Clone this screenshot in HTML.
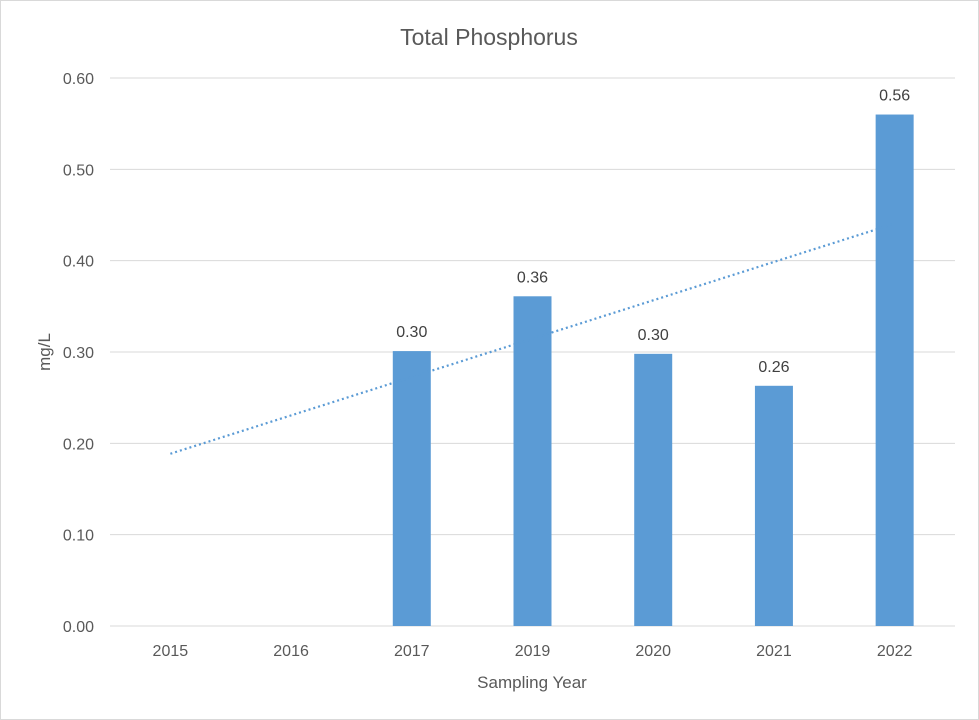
<!DOCTYPE html>
<html><head><meta charset="utf-8"><style>
html,body{margin:0;padding:0;background:#fff;}
svg{display:block;font-family:"Liberation Sans",Calibri,sans-serif;}
</style></head><body>
<svg id="chart" width="979" height="720" viewBox="0 0 979 720">
<rect x="0.5" y="0.5" width="978" height="719" fill="#fff" stroke="#d9d9d9"/>
<text x="489" y="45" text-anchor="middle" font-size="23" fill="#595959">Total Phosphorus</text>
<g id="grid"></g><g id="yticks"></g><g id="bars"></g><g id="labels"></g><g id="xticks"></g><g id="trend"></g>
<text x="532" y="688" text-anchor="middle" font-size="17" fill="#595959">Sampling Year</text>
<text transform="translate(50,352) rotate(-90)" text-anchor="middle" font-size="17" fill="#595959">mg/L</text>
</svg>
<script>
const categories = ["2015","2016","2017","2019","2020","2021","2022"];
const values = [null,null,0.301,0.361,0.298,0.263,0.56];
const valueLabels = ["","","0.30","0.36","0.30","0.26","0.56"];
const yTicks = [0,0.1,0.2,0.3,0.4,0.5,0.6];
const yTickLabels = ["0.00","0.10","0.20","0.30","0.40","0.50","0.60"];

const NS="http://www.w3.org/2000/svg";
const left=110,right=955,y0=626,y1=78,yMax=0.6;
const band=(right-left)/categories.length;
const xC=i=>left+band*(i+0.5);
const yS=v=>y0-(v/yMax)*(y0-y1);
function mk(tag,attrs,parent){const e=document.createElementNS(NS,tag);for(const k in attrs)e.setAttribute(k,attrs[k]);document.getElementById(parent).appendChild(e);return e;}

yTicks.forEach((t,i)=>{
  const g=mk("line",{x1:left,x2:right,y1:yS(t),y2:yS(t),stroke:"#d9d9d9","stroke-width":1},"grid");
  
  
  const l=mk("text",{x:94,y:yS(t)+6,"text-anchor":"end","font-size":16,fill:"#595959"},"yticks");
  l.textContent=yTickLabels[i];
  
  
});
categories.forEach((c,i)=>{
  const l=mk("text",{x:xC(i),y:656,"text-anchor":"middle","font-size":16,fill:"#595959"},"xticks");
  l.textContent=c;
  
  
  const v=values[i];
  if(v==null)return;
  const bw=38;
  const b=mk("rect",{x:xC(i)-bw/2,y:yS(v),width:bw,height:y0-yS(v),fill:"#5b9bd5"},"bars");
  
  
  const t=mk("text",{x:xC(i),y:yS(v)-14,"text-anchor":"middle","font-size":16,fill:"#404040"},"labels");
  t.textContent=valueLabels[i];
  
  
});
// linear trendline over present points (x index 1-based)
const pts=values.map((v,i)=>[i+1,v]).filter(p=>p[1]!=null);
const mx=pts.reduce((s,p)=>s+p[0],0)/pts.length,my=pts.reduce((s,p)=>s+p[1],0)/pts.length;
let num=0,den=0;pts.forEach(p=>{num+=(p[0]-mx)*(p[1]-my);den+=(p[0]-mx)**2;});
const slope=num/den,icpt=my-slope*mx;
const n=categories.length;
const tl=mk("line",{x1:xC(0),y1:yS(icpt+slope*1),x2:xC(n-1),y2:yS(icpt+slope*n),stroke:"#5b9bd5","stroke-width":2.2,"stroke-dasharray":"2 3"},"trend");


</script>
</body></html>
